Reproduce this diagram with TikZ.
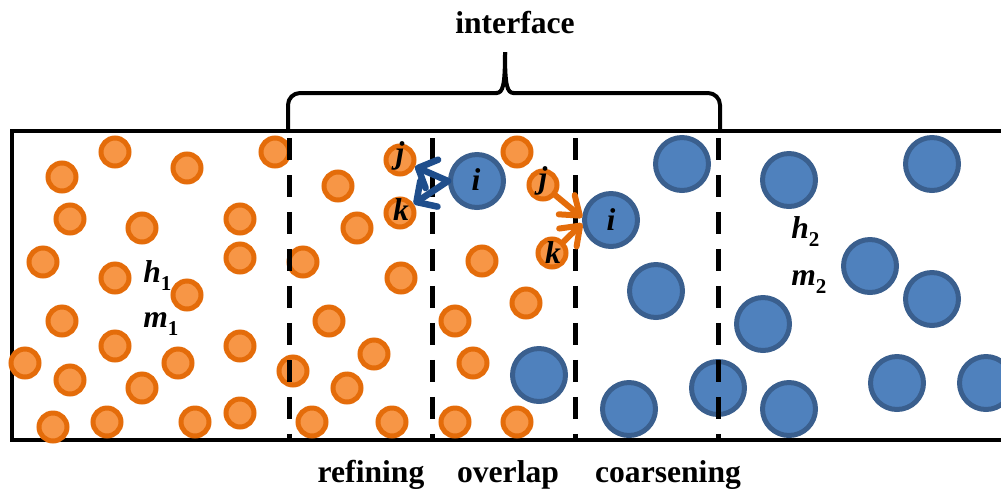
\documentclass[tikz,border=0pt]{standalone}
\usepackage{fontspec}
\setmainfont{Liberation Serif}
\usetikzlibrary{arrows.meta}
\definecolor{ostroke}{HTML}{E46C0A}
\definecolor{ofill}{HTML}{F79646}
\definecolor{bstroke}{HTML}{3A5F8E}
\definecolor{bfill}{HTML}{4F81BD}
\definecolor{barrow}{HTML}{1F4E8C}
\newcommand{\bi}[1]{\textbf{\textit{#1}}}
\newcommand{\sbs}[1]{\raisebox{-0.27em}{\fontsize{12}{12}\selectfont\textbf{#1}}}
\begin{document}
\begin{tikzpicture}[x=0.02cm,y=-0.02cm,
  oc/.style={circle,draw=ostroke,fill=ofill,line width=0.1cm,minimum size=0.56cm,inner sep=0pt},
  bc/.style={circle,draw=bstroke,fill=bfill,line width=0.1cm,minimum size=1.06cm,inner sep=0pt},
  boxline/.style={line width=0.08cm},
  divline/.style={line width=0.1cm,dash pattern=on 0.44cm off 0.30cm},
  bracestyle/.style={line width=0.08cm},
  txt/.style={font=\fontsize{18}{20}\selectfont\bfseries,inner sep=0pt},
  lett/.style={font=\fontsize{18}{20}\selectfont,inner sep=0pt,anchor=base},
  barr/.style={draw=barrow,line width=0.13cm,line cap=round,-{Straight Barb[length=0.3cm,width=0.62cm,round]}},
  oarr/.style={draw=ostroke,line width=0.12cm,line cap=round,-{Straight Barb[length=0.34cm,width=0.5cm,round]}}]
\useasboundingbox (0,0) rectangle (1001,491);
% box
\draw[boxline] (1001,131) -- (12,131) -- (12,440) -- (1001,440);
% orange circles
\foreach \x/\y [count=\n] in {115/152,62/177,187/168,275/152,70/219,142/228,240/219,43/262,240/258,115/278,187/295,62/321,115/346,240/346,25/363,178/363,70/380,142/388,53/427,107/422,195/422,240/413,338/186,357/228,303/262,401/278,329/321,374/354,293/371,347/388,312/422,392/422,517/152,482/261,526/303,455/321,473/363,455/422,517/422}
  \node[oc] (o\n) at (\x,\y) {};
\node[oc] (j1) at (400,160) {};
\node[oc] (k1) at (400,213) {};
\node[oc] (j2) at (543,185) {};
\node[oc] (k2) at (552,253) {};
% blue circles
\foreach \x/\y [count=\n] in {539/375,682/164,656/291,718/388,629/409,789/180,932/164,870/266,932/299,763/324,789/409,897/383,986/383}
  \node[bc] (b\n) at (\x,\y) {};
\node[bc] (i1) at (477,181) {};
\node[bc] (i2) at (611,220) {};
% dividing lines
\foreach \x [count=\n] in {289,432,575,718}{
  \coordinate (dt\n) at (\x,138);
  \coordinate (db\n) at (\x,442);
  \draw[divline] (dt\n) -- (db\n);
}
% arrows
\draw[barr] (i1.west) -- (j1);
\draw[barr] (i1.west) -- (k1);
\draw[oarr] (j2) -- (i2.175);
\draw[oarr] (k2) -- (i2.187);
% letters
\node[lett] (li1) at (476,190) {\bi{i}};
\node[lett] (li2) at (611,230) {\bi{i}};
\node[lett] (lj1) at (400,163) {\bi{j}};
\node[lett] (lk1) at (401,220) {\bi{k}};
\node[lett] (lj2) at (543,188) {\bi{j}};
\node[lett] (lk2) at (553,263) {\bi{k}};
% brace
\coordinate (brl) at (288,131);
\coordinate (brr) at (720,131);
\coordinate (brt) at (505,52);
\draw[bracestyle,rounded corners=0.24cm] (brl) -- (288,93) -- (497,93);
\draw[bracestyle] (496,93) .. controls (503,93) and (505,86) .. (brt);
\draw[bracestyle,rounded corners=0.24cm] (brr) -- (720,93) -- (513,93);
\draw[bracestyle] (514,93) .. controls (507,93) and (505,86) .. (brt);
% texts
\node[txt,anchor=base] (interface) at (515,33) {interface};
\node[txt,anchor=base] (refining) at (371,482) {refining};
\node[txt,anchor=base] (overlap) at (508,482) {overlap};
\node[txt,anchor=base] (coarsening) at (668,482) {coarsening};
\node[lett,anchor=base west] (h1) at (143,282) {\bi{h}\sbs{1}};
\node[lett,anchor=base west] (m1) at (143,327) {\bi{m}\sbs{1}};
\node[lett,anchor=base west] (h2) at (791,238) {\bi{h}\sbs{2}};
\node[lett,anchor=base west] (m2) at (791,285) {\bi{m}\sbs{2}};
\end{tikzpicture}
\end{document}
